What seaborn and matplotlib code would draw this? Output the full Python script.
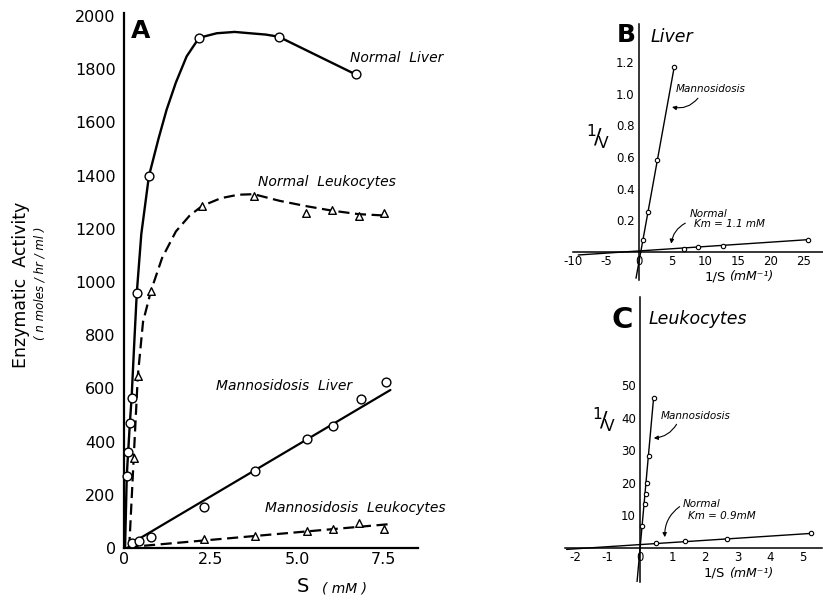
import numpy as np
import pandas as pd
import matplotlib
matplotlib.use("Agg")
import matplotlib.pyplot as plt
import seaborn as sns

# ---------------- Panel A data (S in mM, activity in nmoles/hr/ml) ----------------
nl_x = [0.08, 0.12, 0.17, 0.22, 0.37, 0.72, 2.17, 4.47, 6.70]
nl_y = [271, 361, 470, 565, 960, 1398, 1918, 1922, 1780]
nl_curve_x = [0.03, 0.08, 0.12, 0.17, 0.22, 0.30, 0.37, 0.50, 0.72, 1.0, 1.23, 1.5, 1.81, 2.17, 2.68, 3.2, 3.64, 4.1, 4.47, 5.6, 6.70]
nl_curve_y = [0, 271, 361, 470, 565, 780, 960, 1180, 1398, 1540, 1647, 1750, 1848, 1918, 1935, 1940, 1935, 1930, 1922, 1850, 1780]

nk_x = [0.28, 0.40, 0.78, 2.26, 3.75, 5.27, 6.02, 6.78, 7.52]
nk_y = [337, 648, 967, 1286, 1325, 1259, 1271, 1248, 1258]
nk_curve_x = [0.15, 0.28, 0.40, 0.55, 0.78, 1.1, 1.5, 1.9, 2.26, 2.8, 3.3, 3.75, 4.5, 5.27, 6.02, 6.78, 7.52]
nk_curve_y = [0, 337, 648, 850, 967, 1090, 1190, 1250, 1286, 1315, 1328, 1330, 1305, 1285, 1268, 1255, 1250]

ml_x = [0.22, 0.43, 0.78, 2.31, 3.80, 5.30, 6.05, 6.86, 7.57]
ml_y = [17, 27, 40, 155, 290, 411, 458, 561, 624]
ml_line_x = [0.35, 7.7]
ml_line_y = [28, 594]

mk_x = [2.31, 3.79, 5.30, 6.04, 6.78, 7.52]
mk_y = [33, 45, 63, 70, 93, 70]
mk_line_x = [0.1, 7.7]
mk_line_y = [3, 90]

a_xticks = [0, 2.5, 5.0, 7.5]
a_xticklabels = ["0", "2.5", "5.0", "7.5"]
a_yticks = [0, 200, 400, 600, 800, 1000, 1200, 1400, 1600, 1800, 2000]

# ---------------- Panel B data (Liver, Lineweaver-Burk) ----------------
b_man_x = [0.56, 1.32, 2.73, 5.35]
b_man_y = [0.074, 0.253, 0.583, 1.17]
b_man_line_x = [-0.45, 5.35]
b_man_line_y = [-0.166, 1.17]
b_nor_x = [6.8, 8.9, 12.8, 25.7]
b_nor_y = [0.021, 0.030, 0.040, 0.078]
b_nor_line_x = [-9.2, 25.7]
b_nor_line_y = [-0.019, 0.078]
b_xticks = [-10, -5, 0, 5, 10, 15, 20, 25]
b_yticks = [0.2, 0.4, 0.6, 0.8, 1.0, 1.2]

# ---------------- Panel C data (Leukocytes) ----------------
c_man_x = [0.06, 0.14, 0.18, 0.22, 0.28, 0.42]
c_man_y = [6.8, 13.6, 16.6, 19.9, 28.3, 46.1]
c_man_line_x = [-0.09, 0.42]
c_man_line_y = [-10.3, 46.1]
c_nor_x = [0.49, 1.39, 2.68, 5.27]
c_nor_y = [1.5, 2.2, 2.9, 4.5]
c_nor_line_x = [-2.26, 5.27]
c_nor_line_y = [-0.4, 4.5]
c_xticks = [-2, -1, 0, 1, 2, 3, 4, 5]
c_yticks = [10, 20, 30, 40, 50]

sns.set_theme(style="white")
plt.rcParams["font.family"] = ["DejaVu Sans"]
plt.rcParams["text.color"] = "black"
plt.rcParams["axes.labelcolor"] = "black"
plt.rcParams["xtick.color"] = "black"
plt.rcParams["ytick.color"] = "black"

fig = plt.figure(figsize=(8.23, 6.03), dpi=100)
W, H = 823.0, 603.0

def add_ax(left_px, right_px, top_px, bottom_px):
    return fig.add_axes([left_px / W, 1 - bottom_px / H, (right_px - left_px) / W, (bottom_px - top_px) / H])

# ================= Panel A =================
axA = add_ax(124, 418.1, 13.3, 548)
axA.set_xlim(0, 8.5)
axA.set_ylim(0, 2010)

sns.lineplot(x=nl_curve_x, y=nl_curve_y, ax=axA, color="black", linewidth=1.7, sort=False, estimator=None)
sns.lineplot(x=nk_curve_x, y=nk_curve_y, ax=axA, color="black", linewidth=1.6, sort=False, estimator=None)
axA.lines[-1].set_linestyle((0, (5, 2.5)))
sns.lineplot(x=ml_line_x, y=ml_line_y, ax=axA, color="black", linewidth=1.6, sort=False, estimator=None)
sns.lineplot(x=mk_line_x, y=mk_line_y, ax=axA, color="black", linewidth=1.6, sort=False, estimator=None)
axA.lines[-1].set_linestyle((0, (5, 2.5)))

sns.scatterplot(x=nl_x, y=nl_y, ax=axA, marker="o", s=40, facecolor="white", edgecolor="black", linewidth=1.0, zorder=5, clip_on=False)
sns.scatterplot(x=ml_x, y=ml_y, ax=axA, marker="o", s=40, facecolor="white", edgecolor="black", linewidth=1.0, zorder=5, clip_on=False)
sns.scatterplot(x=nk_x, y=nk_y, ax=axA, marker="^", s=30, facecolor="white", edgecolor="black", linewidth=1.0, zorder=5, clip_on=False)
sns.scatterplot(x=mk_x, y=mk_y, ax=axA, marker="^", s=30, facecolor="white", edgecolor="black", linewidth=1.0, zorder=5, clip_on=False)

for s in ["top", "right"]:
    axA.spines[s].set_visible(False)
for s in ["left", "bottom"]:
    axA.spines[s].set_linewidth(1.6)
    axA.spines[s].set_color("black")
axA.set_xticks(a_xticks)
axA.set_xticklabels(a_xticklabels)
axA.set_yticks(a_yticks)
axA.set_yticklabels([str(v) for v in a_yticks])
axA.tick_params(axis="both", direction="in", length=7, width=1.3, colors="black", labelsize=11.5)
axA.tick_params(axis="x", pad=3)
axA.tick_params(axis="y", pad=6)
axA.set_xlabel("")
axA.set_ylabel("")

axA.text(0.49, 1943, "A", fontsize=18, fontweight="bold", ha="center", va="center", color="black")
axA.text(7.89, 1842, "Normal  Liver", fontsize=10, style="italic", ha="center", va="center")
axA.text(5.87, 1375, "Normal  Leukocytes", fontsize=10, style="italic", ha="center", va="center")
axA.text(4.62, 610, "Mannosidosis  Liver", fontsize=10, style="italic", ha="center", va="center")
axA.text(6.68, 151, "Mannosidosis  Leukocytes", fontsize=10, style="italic", ha="center", va="center")

fig.text(21 / W, 1 - 285 / H, "Enzymatic  Activity", fontsize=12.5, rotation=90, ha="center", va="center")
fig.text(40 / W, 1 - 283 / H, "( n moles / hr / ml )", fontsize=8.5, style="italic", rotation=90, ha="center", va="center")
fig.text(303 / W, 1 - 587 / H, "S", fontsize=14, ha="center", va="center")
fig.text(345 / W, 1 - 588 / H, "( mM )", fontsize=10, style="italic", ha="center", va="center")

# ================= Panel B / C common =================
def lb_axes(ax, xticks, yticks, ylabels):
    for s in ["top", "right"]:
        ax.spines[s].set_visible(False)
    ax.spines["left"].set_position(("data", 0))
    ax.spines["bottom"].set_position(("data", 0))
    for s in ["left", "bottom"]:
        ax.spines[s].set_linewidth(1.1)
        ax.spines[s].set_color("black")
    ax.set_xticks(xticks)
    ax.set_xticklabels([str(v) for v in xticks])
    ax.set_yticks(yticks)
    ax.set_yticklabels(ylabels)
    ax.tick_params(axis="both", direction="in", length=3.5, width=1.0, colors="black", labelsize=8.5)
    ax.tick_params(axis="x", pad=2)
    ax.tick_params(axis="y", pad=3)
    ax.set_xlabel("")
    ax.set_ylabel("")
    ax.patch.set_alpha(0)

# ================= Panel B =================
axB = add_ax(573, 823, 24, 280)
axB.set_xlim(-10, 27.9)
axB.set_ylim(-0.177, 1.44)
sns.lineplot(x=b_man_line_x, y=b_man_line_y, ax=axB, color="black", linewidth=1.0, sort=False, estimator=None)
sns.lineplot(x=b_nor_line_x, y=b_nor_line_y, ax=axB, color="black", linewidth=1.0, sort=False, estimator=None)
sns.scatterplot(x=b_man_x, y=b_man_y, ax=axB, marker="o", s=10, facecolor="white", edgecolor="black", linewidth=0.8, zorder=5)
sns.scatterplot(x=b_nor_x, y=b_nor_y, ax=axB, marker="o", s=10, facecolor="white", edgecolor="black", linewidth=0.8, zorder=5)
lb_axes(axB, b_xticks, b_yticks, ["0.2", "0.4", "0.6", "0.8", "1.0", "1.2"])

axB.text(-2.0, 1.37, "B", fontsize=18, fontweight="bold", ha="center", va="center", color="black")
axB.text(5.0, 1.36, "Liver", fontsize=12.5, style="italic", ha="center", va="center")
axB.text(-6.2, 0.73, r"$^{1}\!/\!_{\mathrm{V}}$", fontsize=16, ha="center", va="center")
axB.text(10.9, 1.03, "Mannosidosis", fontsize=7.5, style="italic", ha="center", va="center")
axB.annotate("", xy=(4.6, 0.92), xytext=(9.2, 0.985),
             arrowprops=dict(arrowstyle="-|>", color="black", lw=0.8, mutation_scale=6,
                             connectionstyle="arc3,rad=-0.35"))
axB.text(10.6, 0.24, "Normal", fontsize=7.5, style="italic", ha="center", va="center")
axB.text(13.8, 0.177, "Km = 1.1 mM", fontsize=7.5, style="italic", ha="center", va="center")
axB.annotate("", xy=(4.85, 0.035), xytext=(7.4, 0.19),
             arrowprops=dict(arrowstyle="-|>", color="black", lw=0.8, mutation_scale=6,
                             connectionstyle="arc3,rad=0.3"))
axB.text(9.9, -0.158, "1/S", fontsize=9.5, ha="left", va="center")
axB.text(13.7, -0.158, "(mM⁻¹)", fontsize=9, style="italic", ha="left", va="center")

# ================= Panel C =================
axC = add_ax(565.3, 821.8, 297, 582)
axC.set_xlim(-2.3, 5.6)
axC.set_ylim(-10.4, 77)
sns.lineplot(x=c_man_line_x, y=c_man_line_y, ax=axC, color="black", linewidth=1.0, sort=False, estimator=None)
sns.lineplot(x=c_nor_line_x, y=c_nor_line_y, ax=axC, color="black", linewidth=1.0, sort=False, estimator=None)
sns.scatterplot(x=c_man_x, y=c_man_y, ax=axC, marker="o", s=10, facecolor="white", edgecolor="black", linewidth=0.8, zorder=5)
sns.scatterplot(x=c_nor_x, y=c_nor_y, ax=axC, marker="o", s=10, facecolor="white", edgecolor="black", linewidth=0.8, zorder=5)
lb_axes(axC, c_xticks, c_yticks, [str(v) for v in c_yticks])

axC.text(-0.55, 70, "C", fontsize=21, fontweight="bold", ha="center", va="center", color="black")
axC.text(1.79, 70.2, "Leukocytes", fontsize=12.5, style="italic", ha="center", va="center")
axC.text(-1.1, 39.3, r"$^{1}\!/\!_{\mathrm{V}}$", fontsize=16, ha="center", va="center")
axC.text(1.73, 40.5, "Mannosidosis", fontsize=7.5, style="italic", ha="center", va="center")
axC.annotate("", xy=(0.34, 33.7), xytext=(1.17, 38.7),
             arrowprops=dict(arrowstyle="-|>", color="black", lw=0.8, mutation_scale=6,
                             connectionstyle="arc3,rad=-0.3"))
axC.text(1.91, 13.5, "Normal", fontsize=7.5, style="italic", ha="center", va="center")
axC.text(2.53, 9.8, "Km = 0.9mM", fontsize=7.5, style="italic", ha="center", va="center")
axC.annotate("", xy=(0.77, 2.5), xytext=(1.29, 13.2),
             arrowprops=dict(arrowstyle="-|>", color="black", lw=0.8, mutation_scale=6,
                             connectionstyle="arc3,rad=0.3"))
axC.text(1.95, -7.7, "1/S", fontsize=9.5, ha="left", va="center")
axC.text(2.75, -7.7, "(mM⁻¹)", fontsize=9, style="italic", ha="left", va="center")

fig.savefig("out.png", dpi=100)
